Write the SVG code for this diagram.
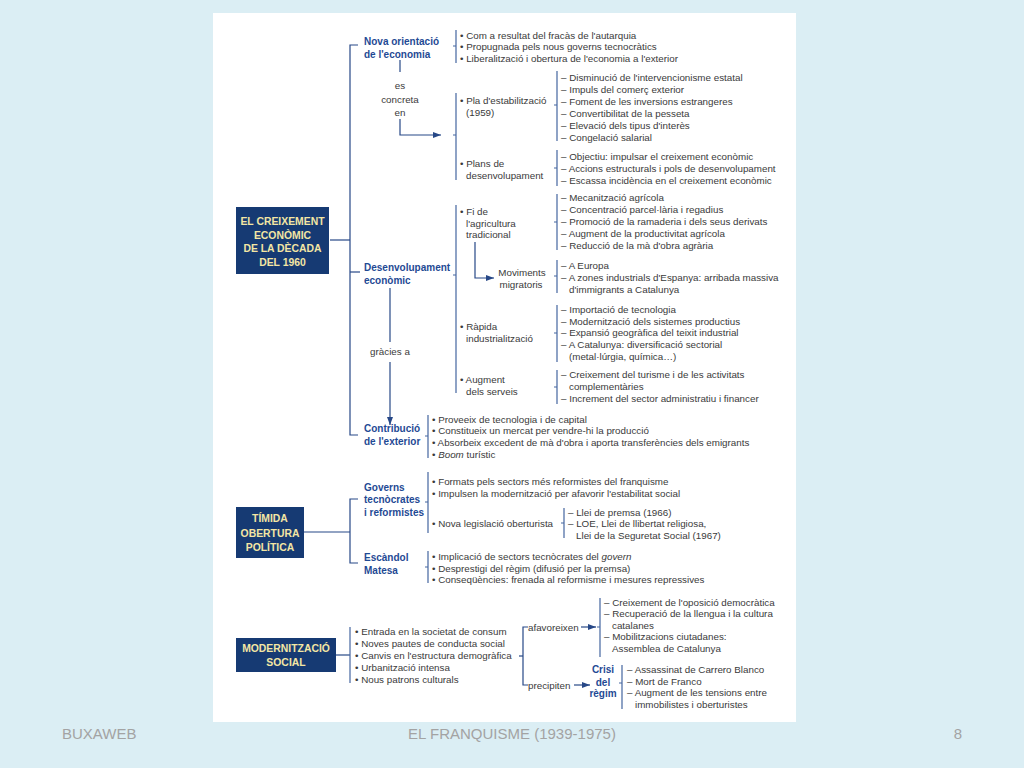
<svg xmlns="http://www.w3.org/2000/svg" width="1024" height="768" viewBox="0 0 1024 768">
<defs>
<style>
.t{font-family:"Liberation Sans",Arial,sans-serif;font-size:9.8px;fill:#3a3a3a}
.h{font-family:"Liberation Sans",Arial,sans-serif;font-size:10px;font-weight:bold;fill:#1f4a94}
.bt{font-family:"Liberation Sans",Arial,sans-serif;font-size:10.4px;font-weight:bold;fill:#f3e6a4;text-anchor:middle}
.bx{fill:#163a73}
.ln{fill:none;stroke:#274887;stroke-width:1.2}
.br{fill:none;stroke:#4566a0;stroke-width:1.2}
.ft{font-family:"Liberation Sans",Arial,sans-serif;font-size:15px;fill:#a3a3a3}
.c{text-anchor:middle}
</style>
<marker id="ar" viewBox="0 0 8 6" refX="8" refY="3" markerWidth="8" markerHeight="6" markerUnits="userSpaceOnUse" orient="auto">
<path d="M0,0 L8,3 L0,6 Z" fill="#274887"/>
</marker>
</defs>
<rect x="0" y="0" width="1024" height="768" fill="#dbeef4"/>
<rect x="213" y="13" width="583" height="709" fill="#ffffff"/>

<g id="connectors">
<path class="ln" d="M358 45 H350 V435 H358"/>
<path class="ln" d="M330 240 H350"/>
<path class="ln" d="M350 272 H360"/>
<path class="ln" d="M400 60 V72"/>
<path class="ln" d="M400 119 V135 H441" marker-end="url(#ar)"/>
<path class="ln" d="M390 288 V342"/>
<path class="ln" d="M390 362 V425" marker-end="url(#ar)"/>
<path class="ln" d="M475 242 V278 H494" marker-end="url(#ar)"/>
<path class="ln" d="M304 532 H350"/>
<path class="ln" d="M358 499 H350 V563 H358"/>
<path class="ln" d="M336 655 H350"/>
<path class="ln" d="M528 627 H523 V685 H528"/>
<path class="ln" d="M519 656 H523"/>
<path class="ln" d="M581 627 H596" marker-end="url(#ar)"/>
<path class="ln" d="M574 685 H590" marker-end="url(#ar)"/>
<text class="t c" x="400" y="89">es</text>
<text class="t c" x="400" y="102.5">concreta</text>
<text class="t c" x="400" y="116">en</text>
<text class="t c" x="390" y="355">gràcies a</text>
<text class="t" x="528" y="630.5">afavoreixen</text>
<text class="t" x="528" y="688.5">precipiten</text>
</g>

<g id="box-creixement">
<rect class="bx" x="236" y="207" width="93" height="67"/>
<text class="bt" x="282.5" y="225">EL CREIXEMENT</text>
<text class="bt" x="282.5" y="238.5">ECONÒMIC</text>
<text class="bt" x="282.5" y="252">DE LA DÈCADA</text>
<text class="bt" x="282.5" y="265.5">DEL 1960</text>
</g>

<g id="nova-orientacio">
<text class="h" x="364" y="45">Nova orientació</text>
<text class="h" x="364" y="58">de l'economia</text>
<path class="br" d="M456 30 V63 M453 46 H456"/>
<text class="t" x="460" y="38.5">• Com a resultat del fracàs de l'autarquia</text>
<text class="t" x="460" y="50">• Propugnada pels nous governs tecnocràtics</text>
<text class="t" x="460" y="61.5">• Liberalització i obertura de l'economia a l'exterior</text>
</g>

<g id="plans">
<path class="br" d="M456 93 V180 M453 135 H456"/>
<text class="t" x="460" y="103.5">• Pla d'estabilització</text>
<text class="t" x="466" y="116">(1959)</text>
<text class="t" x="460" y="166.5">• Plans de</text>
<text class="t" x="466" y="179">desenvolupament</text>
<path class="br" d="M557 71 V141 M554 105 H557"/>
<text class="t" x="561" y="80.5">– Disminució de l'intervencionisme estatal</text>
<text class="t" x="561" y="92.5">– Impuls del comerç exterior</text>
<text class="t" x="561" y="104.5">– Foment de les inversions estrangeres</text>
<text class="t" x="561" y="116.5">– Convertibilitat de la pesseta</text>
<text class="t" x="561" y="128.5">– Elevació dels tipus d'interès</text>
<text class="t" x="561" y="140.5">– Congelació salarial</text>
<path class="br" d="M557 150 V186 M554 168 H557"/>
<text class="t" x="561" y="159.5">– Objectiu: impulsar el creixement econòmic</text>
<text class="t" x="561" y="171.5">– Accions estructurals i pols de desenvolupament</text>
<text class="t" x="561" y="183.5">– Escassa incidència en el creixement econòmic</text>
</g>

<g id="desenvolupament">
<text class="h" x="364" y="271">Desenvolupament</text>
<text class="h" x="364" y="284">econòmic</text>
<path class="br" d="M456 205 V393 M453 275 H456"/>
<text class="t" x="460" y="214.5">• Fi de</text>
<text class="t" x="466" y="226.5">l'agricultura</text>
<text class="t" x="466" y="238">tradicional</text>
<text class="t c" x="522" y="275.5">Moviments</text>
<text class="t c" x="521" y="287.5">migratoris</text>
<text class="t" x="460" y="329.5">• Ràpida</text>
<text class="t" x="466" y="341.5">industrialització</text>
<text class="t" x="460" y="382.5">• Augment</text>
<text class="t" x="466" y="394.5">dels serveis</text>
<path class="br" d="M557 194 V250 M554 222 H557"/>
<text class="t" x="561" y="200.5">– Mecanització agrícola</text>
<text class="t" x="561" y="212.5">– Concentració parcel·lària i regadius</text>
<text class="t" x="561" y="224.5">– Promoció de la ramaderia i dels seus derivats</text>
<text class="t" x="561" y="236.5">– Augment de la productivitat agrícola</text>
<text class="t" x="561" y="248.5">– Reducció de la mà d'obra agrària</text>
<path class="br" d="M557 260 V293 M554 276 H557"/>
<text class="t" x="561" y="268.5">– A Europa</text>
<text class="t" x="561" y="281">– A zones industrials d'Espanya: arribada massiva</text>
<text class="t" x="569" y="293">d'immigrants a Catalunya</text>
<path class="br" d="M557 305 V362 M554 333 H557"/>
<text class="t" x="561" y="312.5">– Importació de tecnologia</text>
<text class="t" x="561" y="324.5">– Modernització dels sistemes productius</text>
<text class="t" x="561" y="336">– Expansió geogràfica del teixit industrial</text>
<text class="t" x="561" y="348">– A Catalunya: diversificació sectorial</text>
<text class="t" x="569" y="360">(metal·lúrgia, química…)</text>
<path class="br" d="M557 370 V404 M554 387 H557"/>
<text class="t" x="561" y="377.5">– Creixement del turisme i de les activitats</text>
<text class="t" x="569" y="389.5">complementàries</text>
<text class="t" x="561" y="401.5">– Increment del sector administratiu i financer</text>
</g>

<g id="contribucio">
<text class="h" x="364" y="432">Contribució</text>
<text class="h" x="364" y="445">de l'exterior</text>
<path class="br" d="M428 415 V458 M425 436 H428"/>
<text class="t" x="432" y="422.5">• Proveeix de tecnologia i de capital</text>
<text class="t" x="432" y="434">• Constitueix un mercat per vendre-hi la producció</text>
<text class="t" x="432" y="445.5">• Absorbeix excedent de mà d'obra i aporta transferències dels emigrants</text>
<text class="t" x="432" y="457.5">• <tspan font-style="italic">Boom</tspan> turístic</text>
</g>

<g id="box-obertura">
<rect class="bx" x="236" y="507" width="68" height="51"/>
<text class="bt" x="270" y="522">TÍMIDA</text>
<text class="bt" x="270" y="536.5">OBERTURA</text>
<text class="bt" x="270" y="551">POLÍTICA</text>
</g>

<g id="governs">
<text class="h" x="364" y="490.5">Governs</text>
<text class="h" x="364" y="503">tecnòcrates</text>
<text class="h" x="364" y="515.5">i reformistes</text>
<path class="br" d="M428 472 V533 M425 502 H428"/>
<text class="t" x="432" y="484.5">• Formats pels sectors més reformistes del franquisme</text>
<text class="t" x="432" y="496.5">• Impulsen la modernització per afavorir l'estabilitat social</text>
<text class="t" x="432" y="526.5">• Nova legislació oberturista</text>
<path class="br" d="M564 508 V538 M561 523 H564"/>
<text class="t" x="568" y="515.5">– Llei de premsa (1966)</text>
<text class="t" x="568" y="527">– LOE, Llei de llibertat religiosa,</text>
<text class="t" x="576" y="538.5">Llei de la Seguretat Social (1967)</text>
</g>

<g id="matesa">
<text class="h" x="364" y="561">Escàndol</text>
<text class="h" x="364" y="573.5">Matesa</text>
<path class="br" d="M428 551 V583 M425 567 H428"/>
<text class="t" x="432" y="559.5">• Implicació de sectors tecnòcrates del <tspan font-style="italic">govern</tspan></text>
<text class="t" x="432" y="571.5">• Desprestigi del règim (difusió per la premsa)</text>
<text class="t" x="432" y="583">• Conseqüències: frenada al reformisme i mesures repressives</text>
</g>

<g id="box-modernitzacio">
<rect class="bx" x="236" y="638" width="100" height="34"/>
<text class="bt" x="286" y="652">MODERNITZACIÓ</text>
<text class="bt" x="286" y="666">SOCIAL</text>
</g>

<g id="modernitzacio-items">
<path class="br" d="M350 627 V683"/>
<text class="t" x="355" y="634.5">• Entrada en la societat de consum</text>
<text class="t" x="355" y="646.5">• Noves pautes de conducta social</text>
<text class="t" x="355" y="658.5">• Canvis en l'estructura demogràfica</text>
<text class="t" x="355" y="670.5">• Urbanització intensa</text>
<text class="t" x="355" y="682.5">• Nous patrons culturals</text>
</g>

<g id="afavoreixen">
<path class="br" d="M600 598 V657 M597 627 H600"/>
<text class="t" x="604" y="605.5">– Creixement de l'oposició democràtica</text>
<text class="t" x="604" y="617">– Recuperació de la llengua i la cultura</text>
<text class="t" x="612" y="628.5">catalanes</text>
<text class="t" x="604" y="640">– Mobilitzacions ciutadanes:</text>
<text class="t" x="612" y="651.5">Assemblea de Catalunya</text>
</g>

<g id="crisi">
<text class="h c" x="603" y="673">Crisi</text>
<text class="h c" x="603" y="685.5">del</text>
<text class="h c" x="603" y="697">règim</text>
<path class="br" d="M622 665 V709 M619 683 H622"/>
<text class="t" x="627" y="672.5">– Assassinat de Carrero Blanco</text>
<text class="t" x="627" y="684.5">– Mort de Franco</text>
<text class="t" x="627" y="695.5">– Augment de les tensions entre</text>
<text class="t" x="635" y="707.5">immobilistes i oberturistes</text>
</g>

<g id="footer">
<text class="ft" x="62" y="739">BUXAWEB</text>
<text class="ft c" x="512" y="739">EL FRANQUISME (1939-1975)</text>
<text class="ft c" x="958" y="739">8</text>
</g>
</svg>
